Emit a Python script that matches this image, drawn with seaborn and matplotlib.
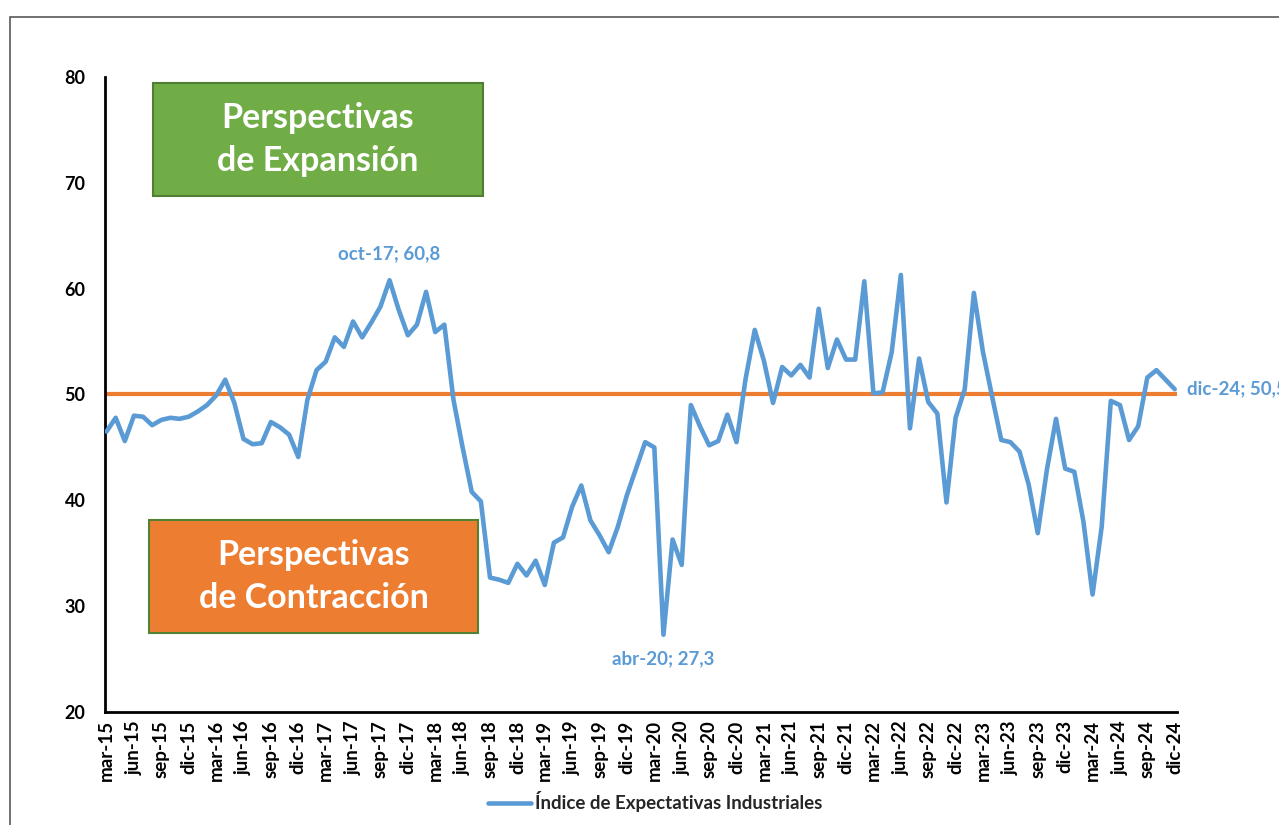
import matplotlib
matplotlib.use("Agg")
import matplotlib.pyplot as plt
import seaborn as sns
import pandas as pd
import numpy as np
from matplotlib.patches import Rectangle

# ---------------- data ----------------
values = [
    46.5, 47.8, 45.6, 48.0, 47.9, 47.1, 47.6, 47.8, 47.7, 47.9,   # mar-15 .. dic-15
    48.4, 49.0, 49.9, 51.4, 49.2, 45.8, 45.3, 45.4, 47.4, 46.9,   # ene-16 .. oct-16
    46.2, 44.1, 49.5, 52.3, 53.1, 55.4, 54.5, 56.9, 55.4, 56.8,   # nov-16 .. ago-17
    58.3, 60.8, 58.0, 55.6, 56.6, 59.7, 55.9, 56.6, 49.5, 45.0,   # sep-17 .. jun-18
    40.8, 39.9, 32.7, 32.5, 32.2, 34.0, 32.9, 34.3, 32.0, 36.0,   # jul-18 .. abr-19
    36.5, 39.4, 41.4, 38.1, 36.7, 35.1, 37.5, 40.5, 43.0, 45.5,   # may-19 .. feb-20
    45.0, 27.3, 36.3, 33.9, 49.0, 47.0, 45.2, 45.6, 48.1, 45.5,   # mar-20 .. dic-20
    51.5, 56.1, 53.2, 49.2, 52.6, 51.8, 52.8, 51.6, 58.1, 52.5,   # ene-21 .. oct-21
    55.2, 53.3, 53.3, 60.7, 50.1, 50.2, 54.0, 61.3, 46.8, 53.4,   # nov-21 .. ago-22
    49.3, 48.2, 39.8, 47.8, 50.5, 59.6, 54.0, 49.8, 45.7, 45.5,   # sep-22 .. jun-23
    44.6, 41.5, 36.9, 42.9, 47.7, 43.0, 42.7, 38.0, 31.1, 37.5,   # jul-23 .. abr-24
    49.4, 49.0, 45.7, 47.0, 51.6, 52.3, 51.4, 50.5,               # may-24 .. dic-24
]
tick_labels = [
    "mar-15", "jun-15", "sep-15", "dic-15", "mar-16", "jun-16", "sep-16", "dic-16",
    "mar-17", "jun-17", "sep-17", "dic-17", "mar-18", "jun-18", "sep-18", "dic-18",
    "mar-19", "jun-19", "sep-19", "dic-19", "mar-20", "jun-20", "sep-20", "dic-20",
    "mar-21", "jun-21", "sep-21", "dic-21", "mar-22", "jun-22", "sep-22", "dic-22",
    "mar-23", "jun-23", "sep-23", "dic-23", "mar-24", "jun-24", "sep-24", "dic-24",
]
threshold = 50
series_name = "Índice de Expectativas Industriales"
annotations = [("oct-17", 31, 60.8), ("abr-20", 61, 27.3), ("dic-24", 117, 50.5)]

BLUE = "#5B9BD5"
ORANGE = "#ED7D31"
GREEN = "#70AD47"

# ---------------- style ----------------
sns.set_style("white")
plt.rcParams["font.family"] = ["Lato", "DejaVu Sans"]
plt.rcParams["font.weight"] = "bold"

fig = plt.figure(figsize=(12.79, 8.25), dpi=100)
ax = fig.add_axes([105 / 1279, 1 - 712 / 825, (1177 - 105) / 1279, (712 - 77) / 825])

df = pd.DataFrame({"idx": np.arange(len(values)), "valor": values})
sns.lineplot(data=df, x="idx", y="valor", ax=ax, color=BLUE, linewidth=3.3,
             label=series_name, zorder=3)
ax.axhline(threshold, color=ORANGE, linewidth=3.0, zorder=2)

ax.set_xlim(-0.17, 117.25)
ax.set_ylim(20, 80)
ax.set_yticks(range(20, 81, 10))
ax.set_xticks(np.arange(0, len(values), 3))
ax.set_xticklabels(tick_labels, rotation=90, fontsize=13.5, fontweight="bold")
for t in ax.get_yticklabels():
    t.set_fontsize(13)
    t.set_fontweight("bold")
ax.tick_params(axis="both", direction="in", length=5, width=1.5, colors="black", pad=6)
ax.tick_params(axis="y", pad=14)
ax.set_xlabel("")
ax.set_ylabel("")
for s in ["top", "right"]:
    ax.spines[s].set_visible(False)
for s in ["left", "bottom"]:
    ax.spines[s].set_linewidth(2)
    ax.spines[s].set_color("black")

# annotations
lab_fmt = lambda m, v: f"{m}; {str(v).replace('.', ',')}"
ax.annotate(lab_fmt(*annotations[0][::2]), xy=(annotations[0][1], annotations[0][2]),
            xytext=(0, 13), textcoords="offset points", ha="center", va="bottom",
            color=BLUE, fontsize=13.5, fontweight="bold")
ax.annotate(lab_fmt(*annotations[1][::2]), xy=(annotations[1][1], annotations[1][2]),
            xytext=(0, -11), textcoords="offset points", ha="center", va="top",
            color=BLUE, fontsize=13.5, fontweight="bold")
ax.annotate(lab_fmt(*annotations[2][::2]), xy=(annotations[2][1], annotations[2][2]),
            xytext=(9, 0), textcoords="offset points", ha="left", va="center",
            color=BLUE, fontsize=13.5, fontweight="bold", annotation_clip=False)

# boxes
ax.add_patch(Rectangle((0.0448, 0.813), 0.3078, 0.177, transform=ax.transAxes,
                       facecolor=GREEN, edgecolor="#507E32", linewidth=1.5, zorder=4))
ax.text(0.0448 + 0.3078 / 2, 0.813 + 0.177 / 2, "Perspectivas\nde Expansión",
        transform=ax.transAxes, ha="center", va="center", color="white",
        fontsize=24.5, fontweight="bold", linespacing=1.45, zorder=5)
ax.add_patch(Rectangle((0.041, 0.125), 0.307, 0.177, transform=ax.transAxes,
                       facecolor=ORANGE, edgecolor="#548235", linewidth=1.5, zorder=4))
ax.text(0.041 + 0.307 / 2, 0.125 + 0.177 / 2, "Perspectivas\nde Contracción",
        transform=ax.transAxes, ha="center", va="center", color="white",
        fontsize=24.5, fontweight="bold", linespacing=1.45, zorder=5)

# legend
leg = ax.legend(loc="center", bbox_to_anchor=(655 / 1279, 1 - 802 / 825),
                bbox_transform=fig.transFigure, frameon=False, fontsize=13.5,
                handlelength=2.3, handletextpad=0.2)
for t in leg.get_texts():
    t.set_fontweight("bold")

# outer chart frame (cropped)
fig.patches.append(Rectangle((10 / 1279, -0.1), 1.2, 1 - 17 / 825 + 0.1,
                             transform=fig.transFigure, fill=False,
                             edgecolor="#595959", linewidth=1.2))

fig.savefig("out.png", dpi=100)
